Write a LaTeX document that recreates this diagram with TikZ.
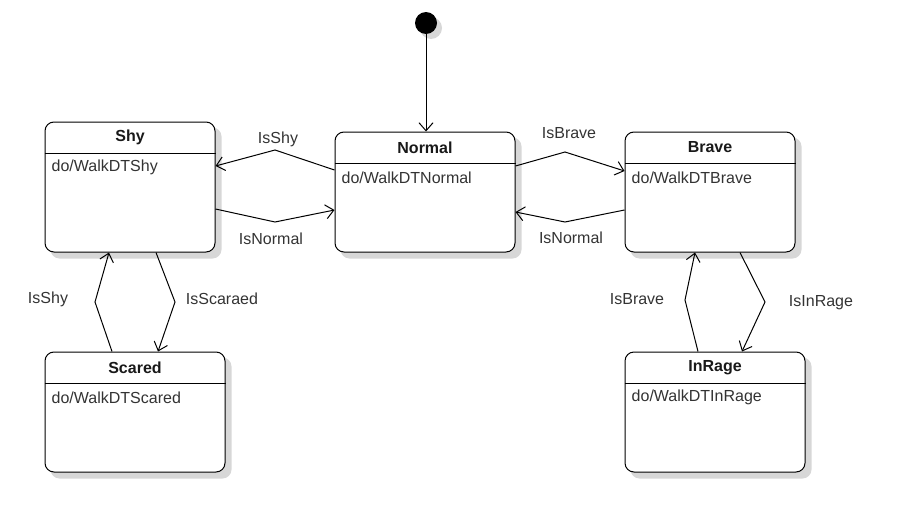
\documentclass[tikz,border=0pt]{standalone}
\usepackage{fontspec}
\setmainfont{Liberation Sans}
\usetikzlibrary{arrows.meta,backgrounds}
\definecolor{statetext}{RGB}{51, 51, 51}
\definecolor{shadowgray}{RGB}{215, 215, 215}

\begin{document}
\begin{tikzpicture}[
    x=1pt, y=-1pt,
    font=\fontsize{16pt}{19pt}\selectfont,
    state/.style={rectangle, draw, line width=1pt, fill=white, rounded corners=9pt, inner sep=0pt},
    statetitle/.style={inner sep=0pt, font=\fontsize{16pt}{19pt}\selectfont\bfseries, text=black!90},
    statebody/.style={inner sep=0pt, anchor=west, text=statetext},
    lbl/.style={inner sep=0pt, text=statetext},
    trans/.style={-{Straight Barb[length=8pt, width=14pt]}, line width=1pt}
]
    \useasboundingbox (0,0) rectangle (907,522);

    % Initial state
    \node[circle, fill=black, minimum size=22pt, inner sep=0pt] (init) at (426,23) {};

    % States
    \node[state, minimum width=170pt, minimum height=130pt] (shy) at (130,187) {};
    \node[state, minimum width=180pt, minimum height=120pt] (normal) at (425,192) {};
    \node[state, minimum width=170pt, minimum height=120pt] (brave) at (710,192) {};
    \node[state, minimum width=180pt, minimum height=120pt] (scared) at (135,412) {};
    \node[state, minimum width=180pt, minimum height=120pt] (inrage) at (715,412) {};

    % Shadows
    \begin{scope}[on background layer]
        \fill[shadowgray] ([shift={(5pt,-5pt)}]init.center) circle (11pt);
        \foreach \s in {shy, normal, brave, scared, inrage}
            \fill[shadowgray, rounded corners=9pt] ([shift={(6pt,-6pt)}]\s.south west) rectangle ([shift={(6pt,-6pt)}]\s.north east);
    \end{scope}

    % Titles, separators and activities
    \foreach \s/\t/\b in {shy/Shy/do\slash WalkDTShy, normal/Normal/do\slash WalkDTNormal,
        brave/Brave/do\slash WalkDTBrave, scared/Scared/do\slash WalkDTScared,
        inrage/InRage/do\slash WalkDTInRage} {
        \node[statetitle] (\s-title) at ([yshift=-16pt]\s.north) {\t};
        \draw[line width=1pt] ([yshift=-31.5pt]\s.north west) -- ([yshift=-31.5pt]\s.north east);
        \node[statebody] (\s-body) at ([xshift=7pt, yshift=-46pt]\s.north west) {\b};
    }

    % Transitions
    \draw[trans] (init) -- (init |- normal.north);
    \draw[trans] ([yshift=22pt]normal.west) -- (275,150) -- ([yshift=21pt]shy.east);
    \draw[trans] ([yshift=-22pt]shy.east) -- (275,222) -- ([yshift=-18pt]normal.west);
    \draw[trans] ([yshift=26pt]normal.east) -- (565,152) -- ([yshift=21pt]brave.west);
    \draw[trans] ([yshift=-18pt]brave.west) -- (565,222) -- ([yshift=-20pt]normal.east);
    \draw[trans] ([xshift=-23pt]scared.north) -- (95,302) -- ([xshift=-21pt]shy.south);
    \draw[trans] ([xshift=26pt]shy.south) -- (175,302) -- ([xshift=23pt]scared.north);
    \draw[trans] ([xshift=-17pt]inrage.north) -- (685,300) -- ([xshift=-15pt]brave.south);
    \draw[trans] ([xshift=30pt]brave.south) -- (765,302) -- ([xshift=27pt]inrage.north);

    % Labels
    \node[lbl] (l-isshy) at (278,139) {IsShy};
    \node[lbl] (l-isnormal1) at (271,239) {IsNormal};
    \node[lbl] (l-isbrave1) at (569,133) {IsBrave};
    \node[lbl] (l-isnormal2) at (571,238) {IsNormal};
    \node[lbl] (l-isshy2) at (48,299) {IsShy};
    \node[lbl] (l-isscared) at (222,299) {IsScaraed};
    \node[lbl] (l-isbrave2) at (637,299) {IsBrave};
    \node[lbl] (l-isinrage) at (821,303) {IsInRage};
\end{tikzpicture}
\end{document}
